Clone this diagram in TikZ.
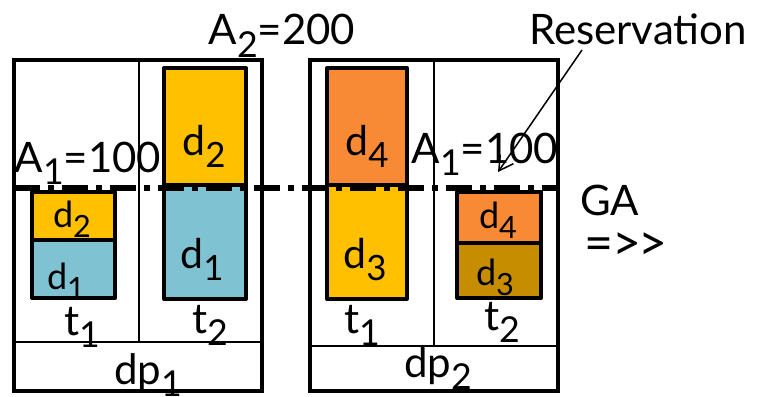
\documentclass[tikz,border=0pt]{standalone}
\usepackage{fontspec}
\setmainfont{Lato}
\usetikzlibrary{arrows.meta}
\definecolor{ygold}{HTML}{FFC000}
\definecolor{lblue}{HTML}{7FC3D2}
\definecolor{orng}{HTML}{F88A35}
\definecolor{dgold}{HTML}{C68D00}
\newcommand\sbx[1]{\raisebox{-0.3em}{\scalebox{0.85}{#1}}}
\tikzset{
  big/.style={inner sep=0pt, font=\fontsize{42}{48}\selectfont},
  mid/.style={inner sep=0pt, font=\fontsize{42}{48}\selectfont},
  lblbig/.style={inner sep=0pt, font=\fontsize{41}{46}\selectfont},
  lblsmall/.style={inner sep=0pt, font=\fontsize{36}{40}\selectfont},
  outer/.style={line width=4pt},
  thinline/.style={line width=1.5pt},
  cbox/.style={line width=4pt, line join=round},
}
\begin{document}
\begin{tikzpicture}[x=1pt,y=-1pt]
\useasboundingbox (0,0) rectangle (757,396);
% left DP
\draw[thinline] (139,60) -- (139,342);
\draw[line width=2pt] (14,342) -- (262,342);
\draw[outer] (14,60) rectangle (262,391);
% right DP
\draw[thinline] (434,60) -- (434,346);
\draw[line width=2pt] (310,346) -- (558,346);
\draw[outer] (310,60) rectangle (558,391);
% boxes left
\filldraw[cbox, fill=lblue] (32,240) rectangle (115,298);
\filldraw[cbox, fill=ygold] (32,192) rectangle (115,240);
\filldraw[cbox, fill=lblue] (164,185) rectangle (246,299);
\filldraw[cbox, fill=ygold] (164,68) rectangle (246,185);
% boxes right
\filldraw[cbox, fill=ygold] (327,185) rectangle (407,299);
\filldraw[cbox, fill=orng] (327,68) rectangle (407,185);
\filldraw[cbox, fill=dgold] (457,243) rectangle (541,298);
\filldraw[cbox, fill=orng] (457,192) rectangle (541,243);
% GA line
\draw[line width=6pt, dash pattern=on 26pt off 8pt on 6pt off 8pt] (14,188) -- (560,188);
% box labels
\node[lblsmall,anchor=base] (l1) at (72,227) {d\sbx{2}};
\node[lblsmall,anchor=base] (l2) at (66,289) {d\sbx{1}};
\node[lblbig,anchor=base] (l3) at (204,155) {d\sbx{2}};
\node[lblbig,anchor=base] (l4) at (202,268) {d\sbx{1}};
\node[lblbig,anchor=base] (l5) at (367,155) {d\sbx{4}};
\node[lblbig,anchor=base] (l6) at (365,268) {d\sbx{3}};
\node[lblsmall,anchor=base] (l7) at (498,228) {d\sbx{4}};
\node[lblsmall,anchor=base] (l8) at (495,285) {d\sbx{3}};
% t labels
\node[mid,anchor=base] (t1a) at (82,335) {t\sbx{1}};
\node[mid,anchor=base] (t2a) at (210,333) {t\sbx{2}};
\node[mid,anchor=base] (t1b) at (362,333) {t\sbx{1}};
\node[mid,anchor=base] (t2b) at (502,330) {t\sbx{2}};
\node[big,anchor=base] (dp1) at (148,384) {dp\sbx{1}};
\node[big,anchor=base] (dp2) at (438,377) {dp\sbx{2}};
% top texts
\node[big,anchor=base] (a2) at (282,45) {A\sbx{2}=200};
\node[big,anchor=base] (res) at (638,45) {Reservation};
\node[big,anchor=base] (a1l) at (88,172) {A\sbx{1}=100};
\node[big,anchor=base] (a1r) at (485,163) {A\sbx{1}=100};
\node[big,anchor=base west] (ga) at (580,215) {GA};
\node[inner sep=0pt,anchor=base west,font=\fontsize{50}{56}\selectfont] (imp) at (584,260) {=\kern-1pt>\kern-3pt>};
% reservation arrow
\coordinate (rtip) at (498,172);
\coordinate (rstart) at (582,50);
\draw[line width=1.5pt, -{Straight Barb[length=14pt,width=16pt]}] (rstart) -- (rtip);
\end{tikzpicture}
\end{document}
